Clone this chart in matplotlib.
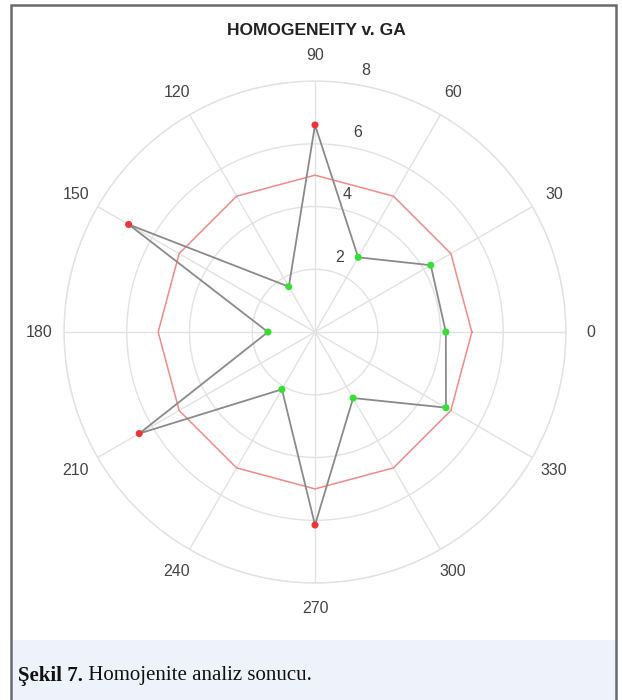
import numpy as np
import matplotlib.pyplot as plt
from matplotlib.patches import Rectangle

# Homogeneity per gantry angle (degrees)
angles_deg = [0, 30, 60, 90, 120, 150, 180, 210, 240, 270, 300, 330]
homogeneity = [4.17, 4.26, 2.75, 6.6, 1.67, 6.86, 1.5, 6.47, 2.11, 6.15, 2.43, 4.82]
threshold = 5.0
r_ticks = [2, 4, 6, 8]
title = "HOMOGENEITY v. GA"
caption_bold = "Şekil 7."
caption_text = " Homojenite analiz sonucu."

plt.rcParams['font.family'] = ['Liberation Sans', 'DejaVu Sans']

fig = plt.figure(figsize=(6.22, 7.0), dpi=100)

# outer frame and caption band
fig.patches.append(Rectangle((0.017, 0.0), 0.974, 0.086, transform=fig.transFigure,
                             facecolor='#eef2fa', edgecolor='none', zorder=0))
fig.patches.append(Rectangle((0.017, -0.01), 0.974, 1.003, transform=fig.transFigure,
                             facecolor='none', edgecolor='#6a6a6a', linewidth=1.8, zorder=1))

ax = fig.add_axes([0.1029, 0.1671, 0.8071, 0.7171], projection='polar')

theta = np.deg2rad(angles_deg)
theta_closed = np.append(theta, theta[0])
vals_closed = np.append(homogeneity, homogeneity[0])
thr_closed = np.full(len(theta_closed), threshold)

ax.plot(theta_closed, thr_closed, color='#f08a8a', linewidth=1.1, zorder=3)
ax.plot(theta_closed, vals_closed, color='#8a8a8a', linewidth=1.3, zorder=4)
colors = ['#ee3535' if v > threshold else '#35e035' for v in homogeneity]
ax.scatter(theta, homogeneity, s=26, c=colors, edgecolors='none', zorder=5)

ax.set_ylim(0, 8)
ax.set_yticks(r_ticks)
ax.set_yticklabels([])
ax.set_xticks(theta)
ax.set_xticklabels([])
ax.grid(color='#e2e2e2', linewidth=1.0)
ax.spines['polar'].set_color('#e2e2e2')
ax.spines['polar'].set_linewidth(1.0)

# angle labels just outside the outer ring
for t, a in zip(theta, angles_deg):
    ax.text(t, 8.8, str(a), ha='center', va='center', color='#444444',
            fontsize=11.5, clip_on=False)

# radial labels sit slightly outside their rings
for r, a in zip(r_ticks, [72, 77, 78, 79]):
    ax.text(np.deg2rad(a), r + 0.5, str(r), ha='center', va='center',
            color='#444444', fontsize=11.5)

fig.text(0.508, 0.957, title, ha='center', va='center', fontsize=12.5,
         fontweight='bold', color='#222222')

cap = fig.text(0.029, 0.035, caption_bold, ha='left', va='center', fontsize=15,
               fontweight='bold', family='Liberation Serif', color='#111111')
fig.canvas.draw()
bb = cap.get_window_extent()
x_end = bb.x1 / fig.bbox.width
fig.text(x_end, 0.035, caption_text, ha='left', va='center', fontsize=15,
         family='Liberation Serif', color='#111111')

fig.savefig('out.png', dpi=100)
